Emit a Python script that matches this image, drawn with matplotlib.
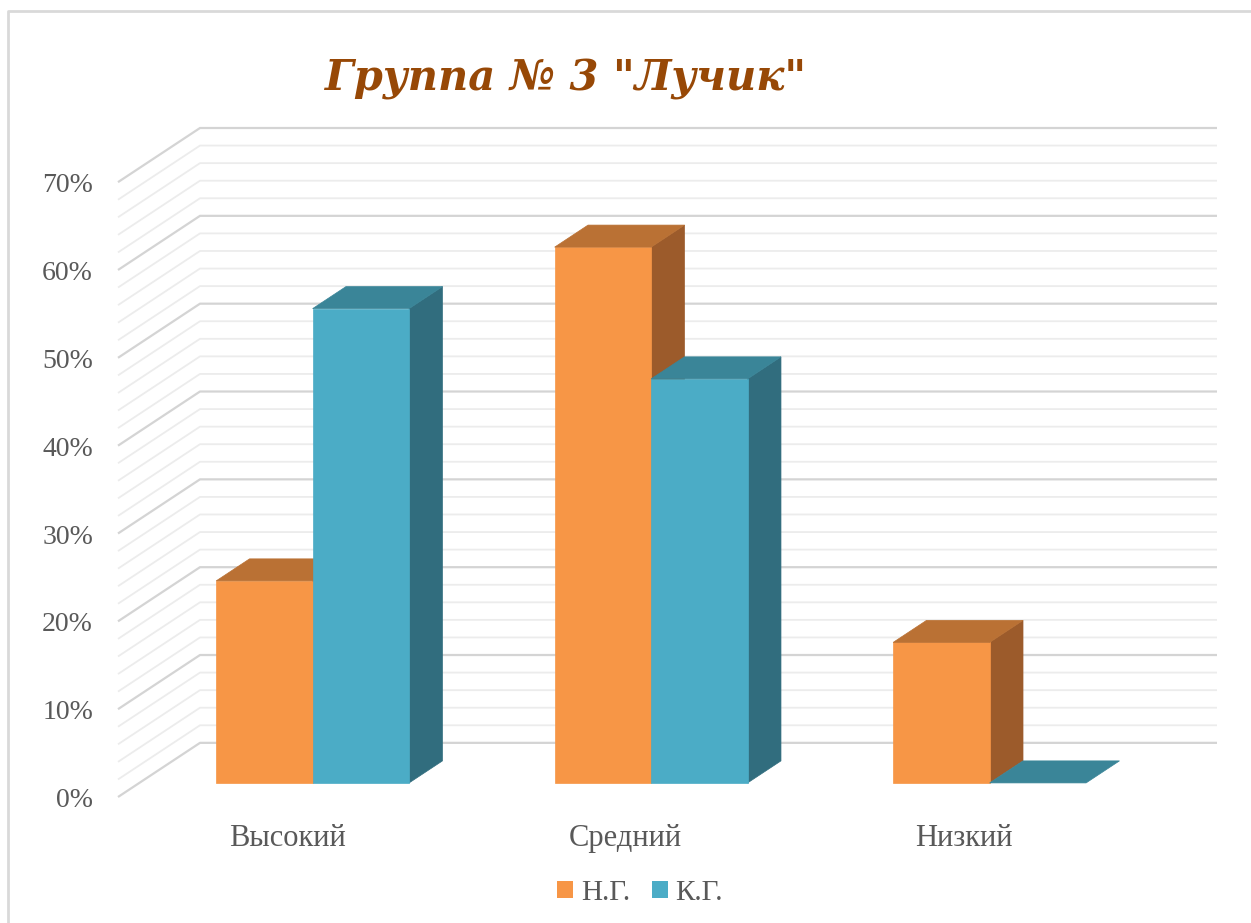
import numpy as np
import matplotlib
matplotlib.use("Agg")
from matplotlib import pyplot as plt
from matplotlib.patches import Polygon, Patch
from matplotlib.lines import Line2D

categories = ["Высокий", "Средний", "Низкий"]
series_names = ["Н.Г.", "К.Г."]
ng_values = [23, 61, 16]
kg_values = [54, 46, 0]
y_ticks = [0, 10, 20, 30, 40, 50, 60, 70]
title = "Группа № 3 \"Лучик\""

# colours: front, top, side
face_colors = [("#F79646", "#BA7134", "#9C5B2B"),
               ("#4BACC6", "#3A8598", "#316D7E")]

# oblique projection of depth
DX = 82 / 338.5   # category units per full depth
DY = 54 / 8.76    # percent units per full depth
d0, d1 = 0.26, 0.667
bar_w = 0.285
bar_shift = 0.012


def proj(x, y, d):
    return (x + d * DX, y + d * DY)


plt.rcParams['font.family'] = ['Liberation Serif', 'DejaVu Serif']

fig = plt.figure(figsize=(12.51, 9.23), dpi=100)
ax = fig.add_axes([118 / 1251, (923 - 797) / 923, 1099 / 1251, 669 / 923])
x_max = -0.5 + 1099 / 338.5
ax.set_xlim(-0.5, x_max)
ax.set_ylim(0, 70 + DY)
ax.axis("off")

# walls / gridlines
for lv in np.arange(0, 70.1, 2):
    major = abs(lv % 10) < 1e-6
    col = "#d4d4d4" if major else "#ececec"
    lw = 1.6 if major else 1.3
    x0, y0 = proj(-0.5, lv, 0)
    x1, y1 = proj(-0.5, lv, 1)
    ax.plot([x0, x1, x_max], [y0, y1, y1], color=col, lw=lw,
            zorder=1 if major else 0.5, clip_on=False, solid_capstyle="butt")

# bars
for i in range(len(categories)):
    for s, vals in enumerate([ng_values, kg_values]):
        v = vals[i]
        xl = i - bar_w + s * bar_w + bar_shift
        xr = xl + bar_w
        front_c, top_c, side_c = face_colors[s]
        z = 3 + i * 2 + s
        if v > 0:
            front = [proj(xl, 0, d0), proj(xr, 0, d0), proj(xr, v, d0), proj(xl, v, d0)]
            side = [proj(xr, 0, d0), proj(xr, 0, d1), proj(xr, v, d1), proj(xr, v, d0)]
            ax.add_patch(Polygon(side, closed=True, facecolor=side_c,
                                 edgecolor=side_c, lw=0.5, zorder=z))
            ax.add_patch(Polygon(front, closed=True, facecolor=front_c,
                                 edgecolor=front_c, lw=0.5, zorder=z))
        top = [proj(xl, v, d0), proj(xr, v, d0), proj(xr, v, d1), proj(xl, v, d1)]
        ax.add_patch(Polygon(top, closed=True, facecolor=top_c,
                             edgecolor=top_c, lw=0.5, zorder=z))

# y tick labels
for t in y_ticks:
    ax.text(-0.5 - 25 / 338.5, t - 0.4, f"{t}%", ha="right", va="center",
            fontsize=20, color="#595959", clip_on=False)

# category labels
for i, c in enumerate(categories):
    ax.text(i, -4.75, c, ha="center", va="center", fontsize=22,
            color="#595959", clip_on=False)

# title
fig.text(566 / 1251, 1 - 79 / 923, title, ha="center", va="center",
         fontsize=30, fontweight="bold", fontstyle="italic", color="#974806",
         family=["DejaVu Serif"])

# legend
handles = [Patch(facecolor=face_colors[0][0]), Patch(facecolor=face_colors[1][0])]
fig.legend(handles, series_names, loc="center", bbox_to_anchor=(640 / 1251, 1 - 893 / 923),
           ncol=2, frameon=False, handlelength=0.55, handleheight=0.55,
           handletextpad=0.25, columnspacing=0.75, prop={"size": 21},
           labelcolor="#595959")

# chart border
bx, by = 8 / 1251, 1 - 11 / 923
fig.add_artist(Line2D([bx, bx, 1.01], [0, by, by], color="#d9d9d9", lw=2,
                      transform=fig.transFigure))

fig.savefig("out.png", dpi=100, facecolor="white")
